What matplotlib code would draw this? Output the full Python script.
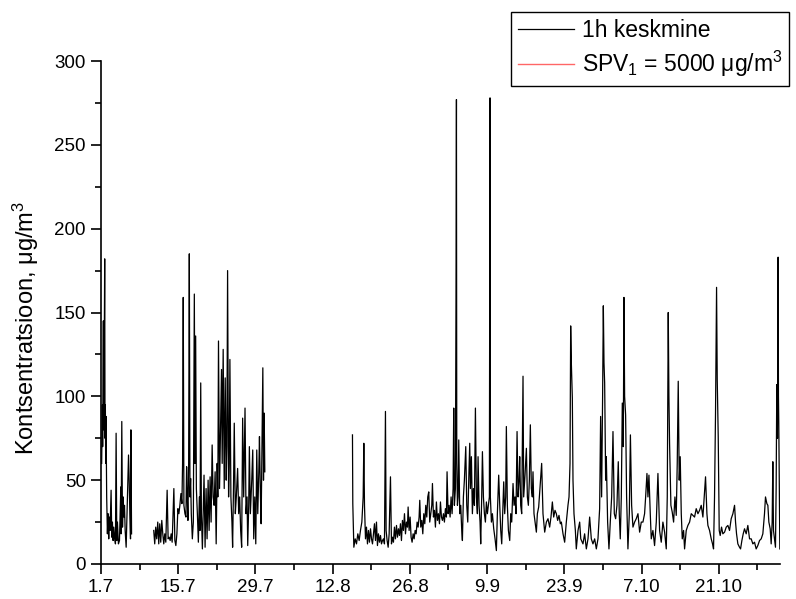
import numpy as np
import matplotlib
matplotlib.use("Agg")
import matplotlib.pyplot as plt

plt.rcParams['font.family'] = ['Liberation Sans', 'DejaVu Sans']
plt.rcParams['mathtext.fontset'] = 'custom'
plt.rcParams['mathtext.rm'] = 'Liberation Sans'
plt.rcParams['mathtext.it'] = 'Liberation Sans'

# days since 1 July, hourly-mean concentration (µg/m3)
seg1_days = [0.12, 0.24, 0.3, 0.43, 0.49, 0.55, 0.67, 0.73, 0.79, 0.85, 0.91, 1.03, 1.16, 1.28, 1.4, 1.52,
             1.64, 1.83, 1.95, 2.07, 2.19, 2.31, 2.5, 2.62, 2.74, 2.86, 2.98, 3.16, 3.35, 3.47, 3.59, 3.65,
             3.77, 3.9, 4.02, 4.14, 4.26, 4.38, 4.56, 4.68, 4.81, 4.99, 5.11, 5.23, 5.35, 5.42, 5.54]
seg1_vals = [60, 95, 70, 145, 80, 100, 182, 75, 95, 60, 88, 40, 18, 30, 15, 28,
             20, 44, 16, 25, 14, 22, 15, 12, 78, 14, 25, 12, 14, 30, 46, 18,
             85, 22, 40, 28, 35, 20, 10, 25, 40, 65, 50, 30, 15, 80, 18]

seg2_days = [9.56, 9.74, 9.92, 10.1, 10.29, 10.47, 10.65, 10.83, 11.02, 11.2, 11.38, 11.56, 11.75, 11.99,
             12.17, 12.36, 12.54, 12.72, 12.9, 13.21, 13.39, 13.57, 13.76, 13.94, 14.12, 14.3, 14.49,
             14.67, 14.79, 14.91, 15.03, 15.22, 15.4, 15.52, 15.64, 15.76, 15.89, 16.01, 16.13, 16.25,
             16.37, 16.56, 16.74, 16.92, 17.04, 17.16, 17.29, 17.47, 17.65, 17.83, 17.95, 18.08, 18.2,
             18.38, 18.56, 18.68, 18.87, 19.05, 19.23, 19.42, 19.6, 19.78, 19.96, 20.15, 20.33, 20.51,
             20.69, 20.88, 21.06, 21.18, 21.3, 21.49, 21.67, 21.85, 21.97, 22.15, 22.34, 22.52, 22.7,
             22.82, 22.95, 23.13, 23.25, 23.37, 23.55, 23.74, 23.86, 24.04, 24.16, 24.35, 24.53, 24.77,
             24.96, 25.14, 25.32, 25.5, 25.68, 25.87, 26.11, 26.29, 26.48, 26.6, 26.78, 26.9, 27.08,
             27.33, 27.51, 27.69, 27.88, 28.06, 28.24, 28.42, 28.61, 28.73, 28.91, 29.03, 29.15, 29.34,
             29.46, 29.58, 29.7]
seg2_vals = [20, 12, 22, 15, 25, 12, 24, 13, 26, 18, 12, 18, 13, 44,
             15, 16, 14, 18, 13, 45, 14, 11, 18, 33, 30, 35, 42,
             36, 60, 159, 35, 30, 28, 58, 40, 26, 60, 185, 40, 51,
             30, 15, 25, 161, 60, 136, 45, 30, 13, 40, 20, 108, 30,
             9, 35, 53, 10, 45, 15, 50, 20, 52, 25, 71, 40, 35,
             55, 12, 60, 40, 133, 45, 80, 116, 60, 128, 45, 111, 50,
             70, 175, 40, 60, 122, 40, 25, 10, 50, 84, 30, 40, 57,
             30, 40, 20, 10, 87, 40, 93, 30, 40, 11, 35, 70, 30,
             50, 68, 15, 40, 12, 68, 30, 55, 76, 40, 24, 60, 117,
             50, 90, 55]

seg3_days = [45.59, 45.65, 45.84, 46.08, 46.32, 46.56, 46.8, 47.04, 47.29, 47.53, 47.65, 47.77, 47.95, 48.13,
             48.31, 48.49, 48.67, 48.86, 49.04, 49.22, 49.4, 49.58, 49.76, 49.94, 50.12, 50.3, 50.49, 50.67,
             50.85, 51.03, 51.21, 51.39, 51.57, 51.69, 51.87, 52.06, 52.24, 52.48, 52.66, 52.84, 53.02, 53.2,
             53.38, 53.57, 53.75, 53.93, 54.11, 54.29, 54.47, 54.65, 54.83, 55.02, 55.2, 55.38, 55.56, 55.68,
             55.86, 56.04, 56.22, 56.4, 56.59, 56.77, 56.95, 57.13, 57.31, 57.49, 57.67, 57.79, 57.97, 58.16,
             58.34, 58.52, 58.7, 58.88, 59.06, 59.24, 59.42, 59.6, 59.79, 59.97, 60.09, 60.27, 60.45, 60.63,
             60.81, 60.99, 61.17, 61.36, 61.54, 61.72, 61.9, 62.08, 62.26, 62.44, 62.62, 62.74, 62.93, 63.11,
             63.29, 63.47, 63.65, 63.83, 63.95, 64.07, 64.25, 64.38, 64.44, 64.5, 64.62, 64.74, 64.86, 65.04,
             65.22, 65.4, 65.52, 65.7, 65.88, 66.13, 66.31, 66.49, 66.67, 66.85, 66.97, 67.15, 67.33, 67.51,
             67.7, 67.88, 68.06, 68.24, 68.36, 68.54, 68.72, 68.84, 69.02, 69.15, 69.33, 69.51, 69.69, 69.87,
             70.05, 70.23, 70.41, 70.53, 70.59, 70.78, 70.96, 71.2, 71.44, 71.68, 71.86, 72.1, 72.29, 72.47,
             72.65, 72.83, 73.01, 73.19, 73.37, 73.49, 73.67, 73.86, 74.1, 74.28, 74.46, 74.7, 74.88, 75.06,
             75.24, 75.43, 75.61, 75.79, 75.91, 76.09, 76.27, 76.51, 76.63, 76.87, 77.12, 77.3, 77.48, 77.66,
             77.84, 78.02, 78.2, 78.32, 78.5, 78.69, 78.93, 79.11, 79.35,
             79.89, 80.13, 80.44, 80.74, 81.04, 81.34, 81.58, 81.83, 82.07, 82.31, 82.55, 82.79, 83.03, 83.28,
             83.46, 83.76, 84.06, 84.36, 84.66, 84.85, 85.03, 85.15, 85.27, 85.45, 85.57, 85.75, 86.0, 86.17,
             86.48, 86.78, 86.98, 87.38, 87.68, 87.99, 88.29, 88.59, 88.89, 89.19, 89.5, 89.8, 90.1, 90.4,
             90.58, 90.76, 90.94, 91.07, 91.19, 91.31, 91.49, 91.61, 91.85, 92.09, 92.33, 92.58, 92.82, 93.06,
             93.3, 93.54, 93.78, 93.96, 94.14, 94.33, 94.51, 94.69, 94.81, 94.93, 95.11, 95.29, 95.53, 95.78,
             95.98, 96.2, 96.44, 96.74, 97.04, 97.35, 97.65, 97.95, 98.25, 98.55, 98.74, 98.98, 99.16, 99.34,
             99.58, 99.76, 100.06, 100.36, 100.67, 100.97, 101.27, 101.57, 101.87, 102.18, 102.48, 102.66,
             102.84, 102.96, 103.08, 103.32, 103.56, 103.81, 104.05, 104.29, 104.47, 104.65, 104.83, 105.01,
             105.2, 105.38, 105.62, 105.8, 106.1, 106.4, 106.71, 107.01, 107.31, 107.61, 107.91, 108.22,
             108.52, 108.82, 109.12, 109.36, 109.6, 109.85, 110.03, 110.33, 110.63, 110.87, 111.05, 111.23,
             111.41, 111.6, 111.72, 111.9, 112.08, 112.26, 112.5, 112.74, 113.05, 113.35, 113.65, 113.95,
             114.25, 114.56, 114.86, 115.04, 115.22, 115.46, 115.76, 115.95, 116.19, 116.43, 116.67, 116.97,
             117.27, 117.58, 117.88, 118.18, 118.48, 118.78, 119.08, 119.39, 119.69, 119.99, 120.29, 120.47,
             120.72, 120.9, 121.08, 121.32, 121.5, 121.68, 121.8, 121.92, 122.1, 122.28, 122.4, 122.52,
             122.64, 122.76, 122.82, 122.88, 123.01, 123.07]
seg3_vals = [77, 36, 10, 15, 12, 18, 14, 20, 25, 40, 72, 35, 15, 22,
             12, 20, 13, 21, 15, 12, 18, 24, 14, 25, 11, 18, 13, 17,
             12, 14, 15, 12, 91, 20, 14, 10, 18, 52, 12, 16, 13, 22,
             15, 23, 16, 21, 17, 24, 14, 26, 20, 30, 18, 25, 22, 34,
             20, 28, 16, 13, 18, 15, 20, 18, 25, 22, 28, 38, 22, 26,
             18, 30, 24, 35, 28, 40, 43, 25, 30, 35, 48, 28, 32, 22,
             37, 26, 30, 24, 37, 28, 26, 30, 25, 33, 28, 55, 30, 35,
             28, 40, 30, 45, 93, 35, 45, 180, 277, 60, 35, 40, 74, 30,
             35, 20, 14, 40, 50, 70, 35, 25, 50, 72, 45, 64, 30, 45,
             35, 93, 40, 30, 64, 35, 25, 12, 40, 67, 40, 30, 25, 37,
             30, 35, 40, 278, 40, 25, 30, 21, 15, 8, 30, 53, 35, 20,
             12, 30, 49, 30, 40, 82, 35, 20, 14, 30, 25, 48, 35, 40,
             30, 79, 40, 50, 64, 35, 30, 112, 40, 53, 69, 40, 35, 50,
             83, 45, 40, 55, 30, 25, 19, 30, 34,
             60, 30, 19, 25, 27, 22, 28, 37, 28, 32, 30, 26, 29, 24,
             25, 18, 13, 25, 35, 40, 60, 142, 120, 99, 50, 30, 20, 9,
             20, 25, 15, 12, 18, 9, 15, 28, 15, 12, 15, 9, 15, 33,
             88, 40, 100, 154, 120, 108, 50, 64, 25, 9, 25, 40, 79, 30,
             27, 35, 61, 30, 15, 40, 96, 70, 159, 100, 89, 40, 9, 30,
             77, 35, 22, 25, 27, 30, 19, 25, 25, 30, 40, 54, 40, 53,
             30, 15, 20, 11, 25, 54, 20, 13, 25, 19, 9, 40,
             150, 100, 72, 35, 31, 25, 40, 29, 60, 109, 50, 64,
             30, 15, 20, 9, 20, 23, 25, 30, 29, 28, 33, 30,
             32, 35, 28, 40, 52, 30, 23, 20, 15, 12, 9, 40,
             90, 165, 110, 76, 20, 17, 22, 18, 19, 22, 23, 20,
             27, 30, 35, 25, 18, 12, 10, 9, 14, 18, 21, 18,
             23, 15, 15, 12, 13, 9, 11, 14, 15, 18, 30, 40,
             36, 35, 25, 21, 12, 25, 61, 20, 15, 10, 45, 107,
             75, 183, 100, 84, 30, 9]

limit_value = 5000
tick_days = [0, 14, 28, 42, 56, 70, 84, 98, 112]
tick_labels = ["1.7", "15.7", "29.7", "12.8", "26.8", "9.9", "23.9", "7.10", "21.10"]

days = np.concatenate([seg1_days, [np.nan], seg2_days, [np.nan], seg3_days])
vals = np.concatenate([seg1_vals, [np.nan], seg2_vals, [np.nan], seg3_vals])

fig = plt.figure(figsize=(7.96, 5.99), dpi=100)
ax = fig.add_axes([101/796, 1 - 564/599, (780 - 101)/796, (564 - 61)/599])

l1, = ax.plot(days, vals, color='black', lw=0.9, label='1h keskmine')
l2 = ax.axhline(limit_value, color='#ff6666', lw=1.0, label='SPV$_1$ = 5000 μg/m$^3$')

ax.set_xlim(0, 123.1)
ax.set_ylim(0, 300)
ax.set_xticks(tick_days)
ax.set_xticklabels(tick_labels)
ax.set_xticks(np.arange(7, 123, 14), minor=True)
ax.set_yticks(np.arange(0, 301, 50))
ax.set_yticks(np.arange(25, 300, 50), minor=True)

for s in ['top', 'right']:
    ax.spines[s].set_visible(False)
for s in ['left', 'bottom']:
    ax.spines[s].set_linewidth(1.2)
ax.tick_params(which='major', direction='out', length=7, width=1.2, labelsize=13.5, pad=4)
ax.tick_params(which='minor', direction='out', length=4, width=1.2)
ax.set_ylabel('Kontsentratsioon, μg/m$^3$', fontsize=17)
ax.yaxis.set_label_coords(-0.088, 0.47)

leg = fig.legend(handles=[l1, l2], loc='upper left', bbox_to_anchor=(511/796, 1 - 12/599),
                 borderaxespad=0, fancybox=False, framealpha=1, edgecolor='black',
                 fontsize=16.5, handlelength=2.45, handletextpad=0.35, borderpad=0.3,
                 labelspacing=0.3)
leg.get_frame().set_linewidth(1.0)

fig.savefig('out.png', dpi=100)
